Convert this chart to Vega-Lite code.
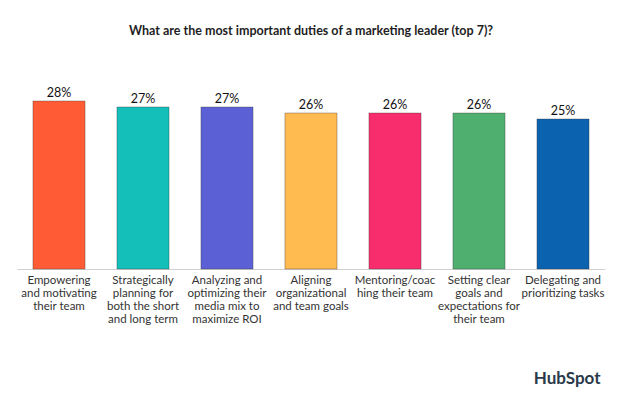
{
  "$schema": "https://vega.github.io/schema/vega-lite/v6.json",
  "autosize": "none",
  "width": 588,
  "height": 169,
  "padding": {"left": 17, "top": 100, "right": 18, "bottom": 129},
  "background": "white",
  "title": {
    "text": "What are the most important duties of a marketing leader (top 7)?",
    "anchor": "middle",
    "font": "Lato",
    "fontSize": 12.5,
    "fontWeight": "bold",
    "color": "#1e1e24",
    "offset": 50
  },
  "data": {
    "values": [
      {"duty": "Empowering\nand motivating\ntheir team", "pct": 0.28, "color": "#FF5C35"},
      {"duty": "Strategically\nplanning for\nboth the short\nand long term", "pct": 0.27, "color": "#14BFBA"},
      {"duty": "Analyzing and\noptimizing their\nmedia mix to\nmaximize ROI", "pct": 0.27, "color": "#5B61D4"},
      {"duty": "Aligning\norganizational\nand team goals", "pct": 0.26, "color": "#FFBA50"},
      {"duty": "Mentoring/coac\nhing their team", "pct": 0.26, "color": "#F72D6D"},
      {"duty": "Setting clear\ngoals and\nexpectations for\ntheir team", "pct": 0.26, "color": "#4FAF6F"},
      {"duty": "Delegating and\nprioritizing tasks", "pct": 0.25, "color": "#0B62AF"}
    ]
  },
  "encoding": {
    "x": {
      "field": "duty",
      "type": "nominal",
      "sort": null,
      "scale": {"paddingInner": 0.38, "paddingOuter": 0.19},
      "axis": {
        "title": "HubSpot",
        "titleAnchor": "end",
        "titleAlign": "right",
        "titleFont": "Lato",
        "titleFontSize": 17,
        "titleFontWeight": "bold",
        "titleColor": "#2b3a4a",
        "titleBaseline": "middle",
        "titleY": 109,
        "titleX": 583,
        "labelAngle": 0,
        "labelExpr": "split(datum.label, '\\n')",
        "labelFont": "Lato",
        "labelFontSize": 11.5,
        "labelColor": "#333333",
        "labelLineHeight": 13,
        "labelPadding": 5,
        "labelLimit": 200,
        "ticks": false,
        "domainColor": "#d0d0d0",
        "domainWidth": 1
      }
    },
    "y": {
      "field": "pct",
      "type": "quantitative",
      "scale": {"domain": [0, 0.281667]},
      "axis": null
    }
  },
  "layer": [
    {
      "mark": {"type": "bar", "strokeWidth": 1, "strokeOpacity": 0.35, "stroke": "#333333"},
      "encoding": {
        "color": {"field": "color", "type": "nominal", "scale": null}
      }
    },
    {
      "mark": {"type": "text", "dy": -8, "font": "Lato", "fontSize": 12.5, "color": "#111111"},
      "encoding": {
        "text": {"field": "pct", "type": "quantitative", "format": ".0%"}
      }
    }
  ],
  "config": {"view": {"stroke": null}}
}
